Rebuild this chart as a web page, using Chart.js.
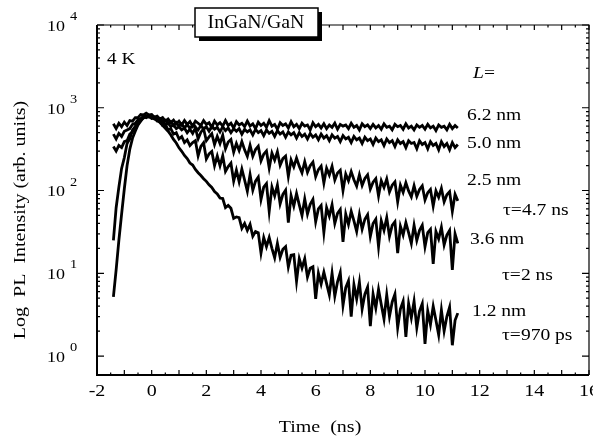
<!DOCTYPE html>
<html>
<head>
<meta charset="utf-8">
<script src="https://cdn.jsdelivr.net/npm/chart.js@4/dist/chart.umd.min.js"></script>
<style>
  body { margin: 0; background: #fff; }
  #wrap { width: 593px; height: 436px; }
</style>
</head>
<body>
<div id="wrap"><canvas id="plChart" width="593" height="436"></canvas></div>
<script>
// tiempos de muestreo (ns)
const timeNs = [
  -1.4,-1.3,-1.2,-1.1,-1.0,-0.9,-0.8,-0.7,-0.6,-0.5,
  -0.4,-0.3,-0.2,-0.1,0.0,0.1,0.2,0.3,0.4,0.5,
  0.6,0.7,0.8,0.9,1.0,1.1,1.2,1.3,1.4,1.5,
  1.6,1.7,1.8,1.9,2.0,2.1,2.2,2.3,2.4,2.5,
  2.6,2.7,2.8,2.9,3.0,3.1,3.2,3.3,3.4,3.5,
  3.6,3.7,3.8,3.9,4.0,4.1,4.2,4.3,4.4,4.5,
  4.6,4.7,4.8,4.9,5.0,5.1,5.2,5.3,5.4,5.5,
  5.6,5.7,5.8,5.9,6.0,6.1,6.2,6.3,6.4,6.5,
  6.6,6.7,6.8,6.9,7.0,7.1,7.2,7.3,7.4,7.5,
  7.6,7.7,7.8,7.9,8.0,8.1,8.2,8.3,8.4,8.5,
  8.6,8.7,8.8,8.9,9.0,9.1,9.2,9.3,9.4,9.5,
  9.6,9.7,9.8,9.9,10.0,10.1,10.2,10.3,10.4,10.5,
  10.6,10.7,10.8,10.9,11.0,11.1,11.2
];

// intensidad PL por espesor de pozo L
const pl62nm = [
  640,560,650,590,670,610,700,690,760,760,
  830,820,860,820,830,770,790,730,760,690,
  730,660,710,640,690,620,700,630,680,600,
  690,650,610,700,630,660,580,690,620,660,
  600,700,610,650,570,680,620,650,590,690,
  600,640,560,670,610,650,580,700,600,630,
  550,660,610,640,570,680,590,630,560,650,
  600,620,540,660,590,630,570,640,560,620,
  580,650,550,630,600,620,560,650,580,610,
  540,640,590,620,560,630,570,610,550,640,
  580,600,540,630,590,610,550,640,570,600,
  540,620,580,610,550,630,570,600,530,620,
  580,600,540,630,560,610,570
];
const pl50nm = [
  480,420,490,450,520,540,560,630,650,720,
  740,790,790,800,770,770,740,740,690,710,
  650,680,610,660,600,640,570,630,560,620,
  580,540,610,550,590,520,600,550,580,510,
  590,530,570,500,560,520,560,480,550,510,
  540,470,550,500,530,460,540,490,520,450,
  530,480,510,440,510,470,500,430,500,450,
  480,420,490,440,470,410,480,430,460,400,
  470,430,450,390,460,420,440,380,450,410,
  430,370,440,400,420,360,430,390,410,350,
  420,380,400,340,410,370,390,330,400,370,
  380,320,400,360,380,320,390,350,370,310,
  390,340,370,310,380,330,360
];
const pl25nm = [
  340,300,350,330,390,400,480,510,590,630,
  720,750,790,770,770,730,740,680,690,620,
  650,590,620,560,590,540,570,500,550,490,
  570,421,507,557,400,445,485,360,451,370,
  466,318,385,413,290,371,305,391,310,259,
  352,260,313,343,228,275,301,187,283,233,
  294,202,243,261,148,234,193,247,197,164,
  223,166,200,221,147,179,197,123,186,154,
  196,134,163,176,100,158,131,169,135,113,
  155,115,140,155,104,126,139,86,131,109,
  138,96,116,127,73,116,95,124,99,84,
  114,85,103,114,77,94,103,65,99,83,
  106,73,89,97,56,90,75
];
const pl36nm = [
  25,62,110,185,250,370,420,540,590,690,
  710,780,760,790,740,750,690,700,610,630,
  540,560,480,500,420,450,380,410,350,380,
  400,262,341,378,240,277,296,200,262,199,
  263,170,195,214,130,176,128,181,134,98,
  156,101,130,145,78,110,121,56,110,86,
  116,69,90,101,41,87,65,92,67,50,
  79,52,68,78,42,60,66,31,62,49,
  67,40,53,59,24,52,39,56,43,32,
  51,34,45,51,28,40,45,21,43,33,
  47,28,38,42,17.5,37,29,41,31,23,
  38,25,33,38,21,31,34,13,32,26,
  36,22,29,33,11,30,23
];
const pl12nm = [
  5.2,11,25,52,105,200,316,430,520,620,
  690,760,790,800,775,745,705,665,615,565,
  520,470,415,375,328,298,265,243,215,203,
  180,164,152,139,129,117,109,97,91,81,
  80,62,66,61,46,48,47,35,40,33,
  39,28,32,31,17.5,27,21,27,20,15.4,
  23,15.6,19.5,21,11.9,16.5,16.8,8,15,11.6,
  15,9,11.5,12,4.9,10,7.4,10.3,7.5,5.5,
  10,5.3,7.9,10.2,4.1,6.7,8.1,3.0,7.3,4.9,
  7.8,3.7,5.6,6.8,2.3,5.6,3.8,6.4,4.2,2.8,
  5.5,3.0,4.5,5.6,2.2,3.7,4.6,1.7,4.3,2.9,
  4.6,2.2,3.5,4.3,1.4,3.5,2.4,4.0,2.7,1.8,
  3.6,2.0,3.0,3.9,1.35,2.7,3.3
];

const seriesNames = ['6.2 nm', '5.0 nm', '2.5 nm', '3.6 nm', '1.2 nm'];
const seriesValues = [pl62nm, pl50nm, pl25nm, pl36nm, pl12nm];

// etiquetas de los ejes
const xTickLabels = [-2, 0, 2, 4, 6, 8, 10, 12, 14, 16];
const yDecades = [0, 1, 2, 3, 4];

function txt(ctx, s, x, y, size, align, sx, style) {
    ctx.save();
    ctx.translate(x, y);
    ctx.scale(sx, 1);
    ctx.font = (style ? style + ' ' : '') + size + 'px "Liberation Serif", serif';
    ctx.textAlign = align;
    ctx.textBaseline = 'middle';
    ctx.fillText(s, 0, 0);
    ctx.restore();
}

// marco, marcas y textos dibujados a mano
const framePlugin = {
    id: 'framePlugin',
    afterDatasetsDraw(chart) {
        const ctx = chart.ctx;
        const { left, right, top, bottom } = chart.chartArea;
        const xs = chart.scales.x, ys = chart.scales.y;
        ctx.save();
        ctx.strokeStyle = '#000';
        ctx.fillStyle = '#000';

        // ejes
        ctx.lineWidth = 1.2;
        ctx.beginPath();
        ctx.moveTo(left, top); ctx.lineTo(right, top); ctx.lineTo(right, bottom);
        ctx.stroke();
        ctx.lineWidth = 2;
        ctx.beginPath();
        ctx.moveTo(left, top); ctx.lineTo(left, bottom); ctx.lineTo(right, bottom);
        ctx.stroke();

        // marcas del eje x
        ctx.lineWidth = 1.2;
        for (let v = -2; v <= 16; v += 0.5) {
            const px = xs.getPixelForValue(v);
            const len = Number.isInteger(v) ? 5 : 2.5;
            ctx.beginPath();
            ctx.moveTo(px, bottom); ctx.lineTo(px, bottom - len);
            ctx.moveTo(px, top); ctx.lineTo(px, top + len);
            ctx.stroke();
        }
        // marcas del eje y (log)
        yDecades.forEach(d => {
            for (let m = 1; m <= 9; m++) {
                const v = m * Math.pow(10, d);
                if (v < ys.min || v > ys.max) continue;
                const py = ys.getPixelForValue(v);
                const len = m === 1 ? 7 : 3;
                ctx.beginPath();
                ctx.moveTo(left, py); ctx.lineTo(left + len, py);
                ctx.moveTo(right, py); ctx.lineTo(right - len, py);
                ctx.stroke();
            }
        });

        // etiquetas y: 10 con exponente
        yDecades.forEach(d => {
            const py = ys.getPixelForValue(Math.pow(10, d));
            txt(ctx, '10', 65, py + 2, 15, 'right', 1.2);
            txt(ctx, String(d), 70, py - 8, 12, 'left', 1.2);
        });
        // etiquetas x
        xTickLabels.forEach(v => {
            txt(ctx, String(v), xs.getPixelForValue(v), 392, 16, 'center', 1.25);
        });

        // titulos de ejes
        txt(ctx, 'Time  (ns)', 320, 428, 16, 'center', 1.25);
        ctx.save();
        ctx.translate(21, 220);
        ctx.rotate(-Math.PI / 2);
        txt(ctx, 'Log  PL  Intensity (arb. units)', 0, 0, 16, 'center', 1.25);
        ctx.restore();

        // anotaciones
        txt(ctx, '4 K', 107, 60, 16, 'left', 1.2);
        txt(ctx, 'L', 473, 74, 17, 'left', 1.15, 'italic');
        txt(ctx, '=', 484, 74, 17, 'left', 1.15);
        const notes = [
            ['6.2 nm', 467, 116], ['5.0 nm', 467, 144], ['2.5 nm', 467, 181],
            ['τ=4.7 ns', 503, 211], ['3.6 nm', 470, 240], ['τ=2 ns', 502, 276],
            ['1.2 nm', 472, 312], ['τ=970 ps', 502, 336]
        ];
        notes.forEach(n => txt(ctx, n[0], n[1], n[2], 17, 'left', 1.15));

        // recuadro del titulo con sombra
        ctx.fillRect(199, 12, 123, 29);
        ctx.fillStyle = '#fff';
        ctx.fillRect(195, 8, 123, 29);
        ctx.lineWidth = 1.5;
        ctx.strokeRect(195, 8, 123, 29);
        ctx.fillStyle = '#000';
        txt(ctx, 'InGaN/GaN', 256, 23, 18, 'center', 1.1);

        ctx.restore();
    }
};

const ctx = document.getElementById('plChart').getContext('2d');
const plChart = new Chart(ctx, {
    type: 'line',
    data: {
        datasets: seriesNames.map((name, k) => ({
            label: name,
            data: timeNs.map((t, i) => ({ x: t, y: seriesValues[k][i] })),
            borderColor: '#000',
            borderWidth: 2.8,
            pointRadius: 0,
            tension: 0,
            fill: false
        }))
    },
    options: {
        responsive: false,
        animation: false,
        layout: { padding: { left: 97, right: 4, top: 25, bottom: 61 } },
        plugins: { legend: { display: false }, tooltip: { enabled: false } },
        scales: {
            x: { type: 'linear', min: -2, max: 16, display: false },
            y: { type: 'logarithmic', min: 0.59, max: 10000, display: false }
        }
    },
    plugins: [framePlugin]
});
</script>
</body>
</html>
